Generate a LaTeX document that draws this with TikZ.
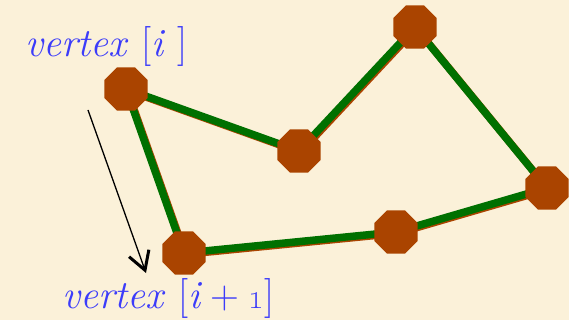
\documentclass[tikz,border=0pt]{standalone}
\usetikzlibrary{arrows.meta,shapes.geometric,backgrounds}
\definecolor{bgcream}{RGB}{251,241,217}
\definecolor{vtxbrown}{RGB}{170,68,0}
\definecolor{sidegreen}{RGB}{0,112,0}
\definecolor{lblblue}{RGB}{60,60,250}
\tikzset{
  vtx/.style={regular polygon, regular polygon sides=8, fill=vtxbrown, draw=none,
              minimum size=47pt, inner sep=0pt},
  side/.style={line width=7.5pt, draw=sidegreen, line join=round},
  sideshade/.style={line width=7.5pt, draw=vtxbrown, line join=round,
              transform canvas={xshift=1.3pt, yshift=-1.3pt}},
  lbl/.style={text=lblblue, font=\fontsize{40}{48}\selectfont, inner sep=0pt},
  pointer/.style={-{Straight Barb[length=18pt, width=21pt, line width=3pt]}, line width=1.3pt},
}

\begin{document}
\begin{tikzpicture}[x=1pt, y=-1pt]
  \useasboundingbox (0,0) rectangle (569,320);
  % polygon corners
  \node[vtx] (v1) at (126,89) {};
  \node[vtx] (v2) at (299,151) {};
  \node[vtx] (v3) at (415,27) {};
  \node[vtx] (v4) at (547,188) {};
  \node[vtx] (v5) at (396,232) {};
  \node[vtx] (v6) at (184,253) {};
  \begin{scope}[on background layer]
    \fill[bgcream] (0,0) rectangle (569,320);
    \draw[sideshade] (v1.center) -- (v2.center) -- (v3.center) -- (v4.center) -- (v5.center) -- (v6.center) -- cycle;
    \draw[side] (v1.center) -- (v2.center) -- (v3.center) -- (v4.center) -- (v5.center) -- (v6.center) -- cycle;
  \end{scope}
  % labels and pointer
  \node[lbl, anchor=base west] (lblcur) at (25,57) {\textit{vertex} [\textit{i} ]};
  \node[lbl, anchor=base west] (lblnext) at (62,308) {\textit{vertex} [\textit{i}\:+\:\oldstylenums{1}]};
  \coordinate (ptail) at (88,110);
  \coordinate (phead) at (146,273);
  \draw[pointer] (ptail) -- (phead);
\end{tikzpicture}
\end{document}
